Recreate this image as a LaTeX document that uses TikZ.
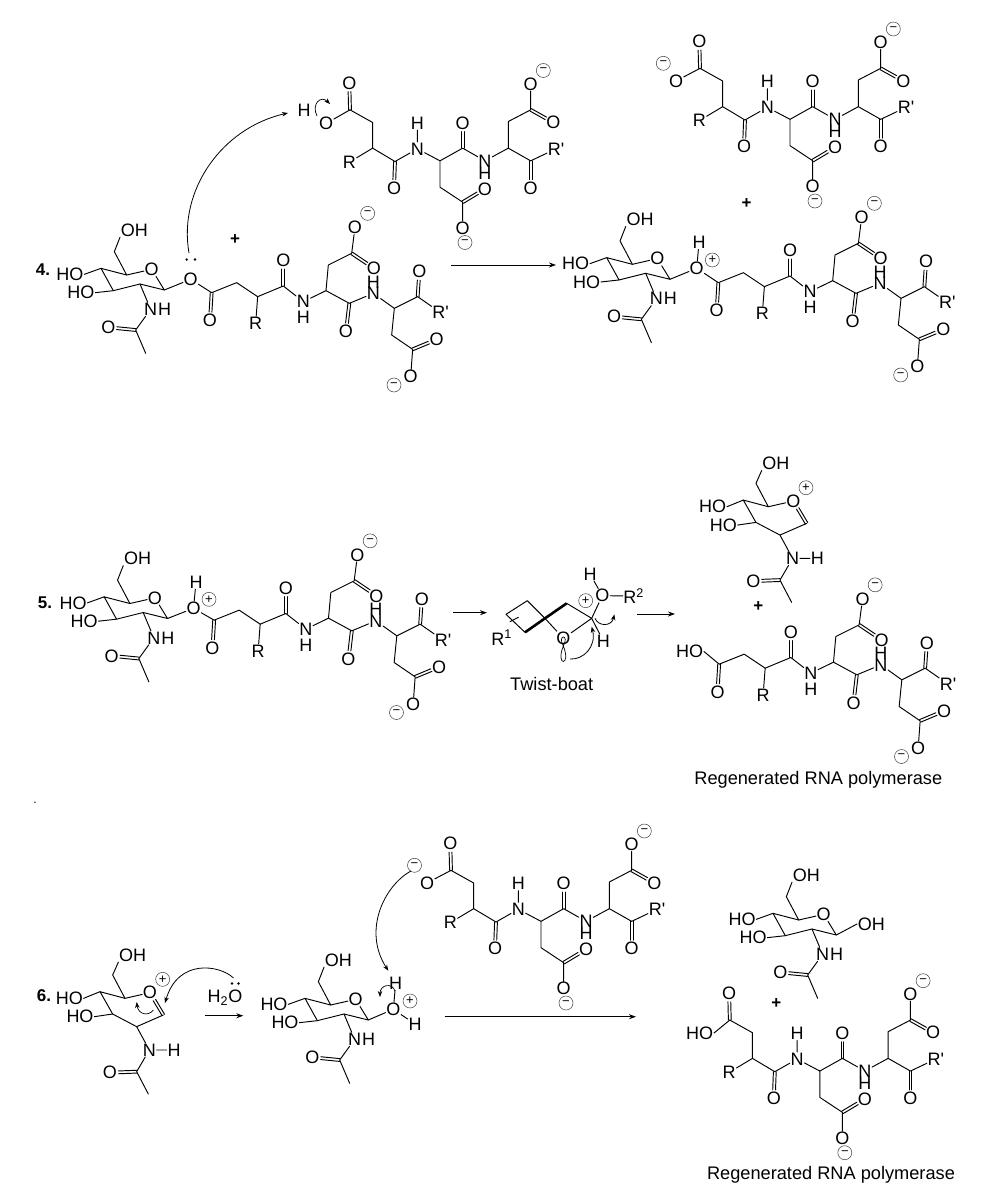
\documentclass[tikz,border=0pt]{standalone}
\usepackage{fontspec}
\setmainfont{Liberation Sans}
\newfontfamily\plainf{Liberation Sans}
\usetikzlibrary{arrows.meta,calc}
\tikzset{
  atom/.style={inner sep=.6pt,font=\fontsize{18}{18}\selectfont},
  bond/.style={line width=.95pt,line cap=round,line join=round},
  chgm/.style={circle,draw=black!75,line width=.5pt,minimum size=14pt,inner sep=0pt,font=\fontsize{13}{13}\selectfont},
  rxn/.style={line width=.95pt,-{Stealth[length=7pt,width=5pt]}},
  curly/.style={line width=.8pt,-{Stealth[length=6pt,width=4.5pt]}},
  lbl/.style={inner sep=0pt,font=\fontsize{18.2}{18.2}\selectfont},
  num/.style={inner sep=0pt,font=\fontsize{17}{17}\selectfont\bfseries},
  plusn/.style={inner sep=0pt,font=\fontsize{17}{17}\selectfont\bfseries},
  lp/.style={circle,fill=black,inner sep=0pt,minimum size=2.6pt},
}
\newcommand{\Cc}[2]{\coordinate (#1) at (#2);}
\newcommand{\At}[3]{\node[atom] (#1) at (#2) {#3};}
\newcommand{\Mi}[2]{\node[chgm] (#1) at (#2) {−};}
\newcommand{\Pl}[2]{\node[chgm] (#1) at (#2) {+};}
\newcommand{\Rp}{R{\plainf'}}
% double bond from a carbon point to an oxygen node
\newcommand{\Db}[2]{\draw[bond,shorten >=8.5pt] ($(#1)!1.4pt!90:(#2.center)$)--($(#2.center)!1.4pt!-90:(#1)$);
 \draw[bond,shorten >=8.5pt] ($(#1)!1.4pt!-90:(#2.center)$)--($(#2.center)!1.4pt!90:(#1)$);}
% peptide with ester end on the left (raw crop coordinates, a third of a pixel each)
\newcommand{\chainA}[3]{\begin{scope}[shift={(#1,#2)},x=.33333pt,y=-.33333pt,name prefix=#3-]
 \Cc{e}{545,878}\Cc{a1}{620,848}\Cc{a2}{683,890}\Cc{a3}{760,858}
 \Cc{b1}{888,872}\Cc{b2}{895,795}\Cc{b3}{965,760}\Cc{b4}{958,910}
 \Cc{c1}{1093,925}\Cc{c2}{1163,890}\Cc{c3}{1085,1005}\Cc{c4}{1148,1048}
 \At{eo}{540,962}{O}\At{r}{677,970}{R}\At{ao}{760,782}{O}
 \At{n1}{820,905}{N}\At{h1}{820,952}{H}
 \At{bo}{975,682}{O}\At{bd}{1032,805}{O}\Mi{bm}{1013,640}
 \At{do}{948,995}{O}\At{n2}{1030,880}{N}\At{h2}{1030,846}{H}
 \At{co}{1168,815}{O}\At{rp}{1232,938}{\Rp}
 \At{cd}{1220,1018}{O}\At{cs}{1142,1130}{O}\Mi{cm}{1092,1155}
 \draw[bond] (e)--(a1)--(a2)--(a3)--(n1)--(b1)--(b2)--(b3)--(bo);
 \draw[bond] (a2)--(r) (b1)--(b4)--(n2)--(c1)--(c2)--(rp) (c1)--(c3)--(c4)--(cs);
 \Db{e}{eo}\Db{a3}{ao}\Db{b3}{bd}\Db{b4}{do}\Db{c2}{co}\Db{c4}{cd}
\end{scope}}
% free peptide (acid end drawn by the caller)
\newcommand{\chainB}[3]{\begin{scope}[shift={(#1,#2)},x=.33333pt,y=-.33333pt,name prefix=#3-]
 \Cc{e}{480,205}\Cc{a1}{548,243}\Cc{a2}{548,320}\Cc{a3}{615,360}
 \Cc{b1}{750,358}\Cc{b2}{750,437}\Cc{b3}{818,482}\Cc{b4}{818,320}
 \Cc{c1}{955,320}\Cc{c2}{955,240}\Cc{c3}{1022,205}\Cc{c4}{1022,358}
 \At{eo}{478,125}{O}\At{r}{478,362}{R}\At{ao}{612,440}{O}
 \At{n1}{682,322}{N}\At{h1}{682,245}{H}
 \At{bd}{885,442}{O}\At{bs}{818,560}{O}\Mi{bm}{825,603}
 \At{do}{818,245}{O}\At{n2}{885,358}{N}\At{h2}{885,395}{H}
 \At{co}{1022,127}{O}\Mi{cm}{1060,87}\At{cd}{1090,243}{O}
 \At{fo}{1022,440}{O}\At{rp}{1098,322}{\Rp}
 \draw[bond] (e)--(a1)--(a2)--(a3)--(n1)--(b1)--(b2)--(b3)--(bs);
 \draw[bond] (a2)--(r) (n1)--(h1) (b1)--(b4)--(n2)--(c1)--(c2)--(c3)--(co) (c1)--(c4)--(rp);
 \Db{e}{eo}\Db{a3}{ao}\Db{b3}{bd}\Db{b4}{do}\Db{c3}{cd}\Db{c4}{fo}
\end{scope}}
% pyranose chair without its anomeric substituent
\newcommand{\sugar}[3]{\begin{scope}[shift={(#1,#2)},x=.33333pt,y=-.33333pt,name prefix=#3-]
 \Cc{c1}{403,870}\Cc{c2}{330,852}\Cc{c3}{250,872}\Cc{c4}{213,805}\Cc{c5}{290,825}
 \Cc{c6}{253,755}\Cc{ac}{317,990}\Cc{me}{347,1060}
 \At{ro}{365,808}{O}\At{oh}{313,690}{OH}\At{hd}{120,823}{HO}\At{ht}{153,878}{HO}
 \At{n}{362,928}{N}\node[atom,anchor=west,inner sep=0pt] (h) at (n.east) {H};
 \At{ao}{235,982}{O}
 \draw[bond] (c1)--(c2)--(c3)--(c4)--(c5)--(ro)--(c1);
 \draw[bond] (c5)--(c6)--(oh.south west) (c4)--(hd.east) (c3)--(ht.east) (c2)--(n)--(ac)--(me);
 \Db{ac}{ao}
\end{scope}}
% oxocarbenium ion
\newcommand{\cation}[3]{\begin{scope}[shift={(#1,#2)},x=.33333pt,y=-.33333pt,name prefix=#3-]
 \Cc{c1}{400,525}\Cc{c2}{320,560}\Cc{c3}{248,522}\Cc{c4}{210,455}\Cc{c5}{285,475}
 \Cc{c6}{248,405}\Cc{ac}{320,695}\Cc{me}{355,762}
 \At{ro}{360,458}{O}\Pl{rp}{398,418}\At{oh}{308,345}{OH}\At{hd}{118,475}{HO}\At{ht}{150,530}{HO}
 \At{n}{358,630}{N}\At{h}{432,630}{H}\At{ao}{240,698}{O}
 \draw[bond] (c1)--(c2)--(c3)--(c4)--(c5)--(ro);
 \draw[bond] (c5)--(c6)--(oh.south west) (c4)--(hd.east) (c3)--(ht.east) (c2)--(n)--(ac)--(me) (n)--(h);
 \Db{ac}{ao}\Db{c1}{ro}
\end{scope}}
\begin{document}
\begin{tikzpicture}[x=1pt,y=-1pt]
\useasboundingbox (0,0) rectangle (1000,1203);
\fill[white] (0,0) rectangle (1000,1203);
%% ---- 4
\node[num] (n4) at (43,270) {4.};
\sugar{30}{0}{sa}
\chainA{30}{0}{ca}
\At{oa}{190.7,279.3}{O}
\draw[bond] (sa-c1)--(oa)--(ca-e);
\node[lp] (d1) at (186.7,259.5) {};\node[lp] (d2) at (195,259.5) {};
\chainB{190}{41.5}{cb}
\At{hb}{304,110.7}{H}
\At{ob}{326,123.5}{O}
\draw[bond] (ob)--(cb-e);
\coordinate (ga) at (189,253);\coordinate (gb) at (288,113);
\draw[curly] (ga) .. controls (178,190) and (222,128) .. (gb);
\coordinate (ha) at (317,116);\coordinate (hc) at (330,104);
\draw[curly,line width=.7pt] (ha) .. controls (311,104) and (321,95) .. (hc);
\node[plusn] (p4) at (235,239.5) {+};
\coordinate (r1a) at (451,265);\coordinate (r1b) at (556,265);
\draw[rxn] (r1a)--(r1b);
\chainB{540}{0}{cc}
\At{oc}{676,81}{O}\Mi{mc}{663.3,63.3}
\draw[bond] (oc)--(cc-e);
\node[plusn] (p4b) at (746.7,204) {+};
\sugar{535.7}{-10.7}{sd}
\chainA{536.7}{-10}{cd}
\At{od}{696.7,268.3}{O}\At{hd}{699,242.5}{H}\Pl{pd}{712.3,260}
\draw[bond] (sd-c1)--(od)--(cd-e) (od)--(hd);
%% ---- 5
\node[num] (n5) at (45,603) {5.};
\sugar{33.2}{328.5}{se}
\chainA{32.5}{327.5}{ce}
\At{oe}{193.5,608.3}{O}\At{he}{196,582.3}{H}\Pl{pe}{209,599.3}
\draw[bond] (se-c1)--(oe)--(ce-e) (oe)--(he);
\coordinate (r2a) at (453,612.7);\coordinate (r2b) at (487,612.7);
\draw[rxn] (r2a)--(r2b);
%% twist boat
\begin{scope}[shift={(500,470)},x=.33333pt,y=-.33333pt,name prefix=tb-]
 \Cc{q1}{18,433}\Cc{q2}{82,392}\Cc{q3}{135,445}\Cc{q4}{75,487}\Cc{q5}{200,400}\Cc{q6}{275,445}\Cc{rt}{55,442}\Cc{ru}{30,455}
 \At{ring}{190,505}{O}
 \node[atom,anchor=east] (r1) at (38,503) {R\textsuperscript{1}};
 \At{o2}{307,377}{O}\At{h2}{270,312}{H}\Pl{pp}{257,392}
 \node[atom,anchor=west] (r2) at (368,378) {R\textsuperscript{2}};
 \At{h3}{310,513}{H}
 \draw[bond] (q4)--(q1)--(q2)--(q3)--(ring)--(q6)--(q5) (q6)--(o2)--(h2) (o2)--(r2) (q6)--(h3);
 \draw[bond] (rt)--(ru);
 \draw[bond,line width=2.6pt,line cap=butt] (q4)--(q3)--(q5);
 \Cc{lob}{190,528}
 \draw[line width=.7pt] (lob) .. controls (170,492) and (210,492) .. (lob) .. controls (165,590) and (215,590) .. (lob);
 \Cc{ca}{210,567}\Cc{cb}{275,470}\Cc{da}{285,445}\Cc{db}{343,433}
 \draw[curly] (ca) .. controls (250,570) and (290,530) .. (cb);
 \draw[curly] (da) .. controls (295,470) and (335,470) .. (db);
\end{scope}
\node[lbl] (tw) at (551.7,684.3) {Twist-boat};
\coordinate (r3a) at (637.3,614);\coordinate (r3b) at (675,614);
\draw[rxn] (r3a)--(r3b);
\cation{673.3}{348.4}{cf}
\node[plusn] (p5) at (758.3,606.7) {+};
\chainA{537.5}{371.5}{cg}
\node[atom,anchor=east] (hog) at (704,651.5) {HO};
\draw[bond] (hog.east)--(cg-e);
\node[lbl] (reg1) at (818.3,779.3) {Regenerated RNA polymerase};
\node[inner sep=0pt,font=\fontsize{12}{12}\selectfont] (dot) at (35,803) {.};
%% ---- 6
\node[num] (n6) at (44,996) {6.};
\cation{30}{840}{ch}
\node[atom] (wat) at (225,997.3) {H\textsubscript{2}O};
\node[lp] (d3) at (232,983.5) {};\node[lp] (d4) at (238.5,983.5) {};
\coordinate (wa) at (233.5,978);\coordinate (wb) at (165,1003);
\draw[curly] (wa) .. controls (220,965) and (178,958) .. (wb);
\coordinate (pa) at (153.3,1010);\coordinate (pb) at (136.7,1002);
\draw[curly,line width=.7pt] (pa) .. controls (148,1017) and (138,1014) .. (pb);
\coordinate (r4a) at (205,1015.7);\coordinate (r4b) at (243.3,1015.7);
\draw[rxn] (r4a)--(r4b);
\sugar{234}{730}{si}
\At{oi}{393.3,1009.3}{O}\At{hi}{395.7,983.3}{H}\At{hj}{415,1024}{H}\Pl{pi}{410,1001}
\draw[bond] (si-c1)--(oi)--(hi) (oi)--(hj);
\chainB{291}{802}{cj}
\At{oj}{427,883}{O}\Mi{mj}{414.5,865.3}
\draw[bond] (oj)--(cj-e);
\coordinate (ua) at (411,871);\coordinate (ub) at (388.3,970.7);
\draw[curly] (ua) .. controls (385,885) and (362,930) .. (ub);
\coordinate (va) at (395,991);\coordinate (vb) at (380,997);
\draw[curly,line width=.7pt] (va) .. controls (392,982) and (380,985) .. (vb);
\coordinate (r5a) at (444.7,1016.7);\coordinate (r5b) at (636,1016.7);
\draw[rxn] (r5a)--(r5b);
\sugar{702}{645}{sk}
\node[atom,anchor=west] (ok) at (857,924) {OH};
\draw[bond] (sk-c1)--(ok.west);
\node[plusn] (p6) at (776.4,1004) {+};
\chainB{569.8}{951.7}{cl}
\node[atom,anchor=east] (hol) at (714,1033) {HO};
\draw[bond] (hol.east)--(cl-e);
\node[lbl] (reg2) at (831,1175) {Regenerated RNA polymerase};
\end{tikzpicture}
\end{document}
